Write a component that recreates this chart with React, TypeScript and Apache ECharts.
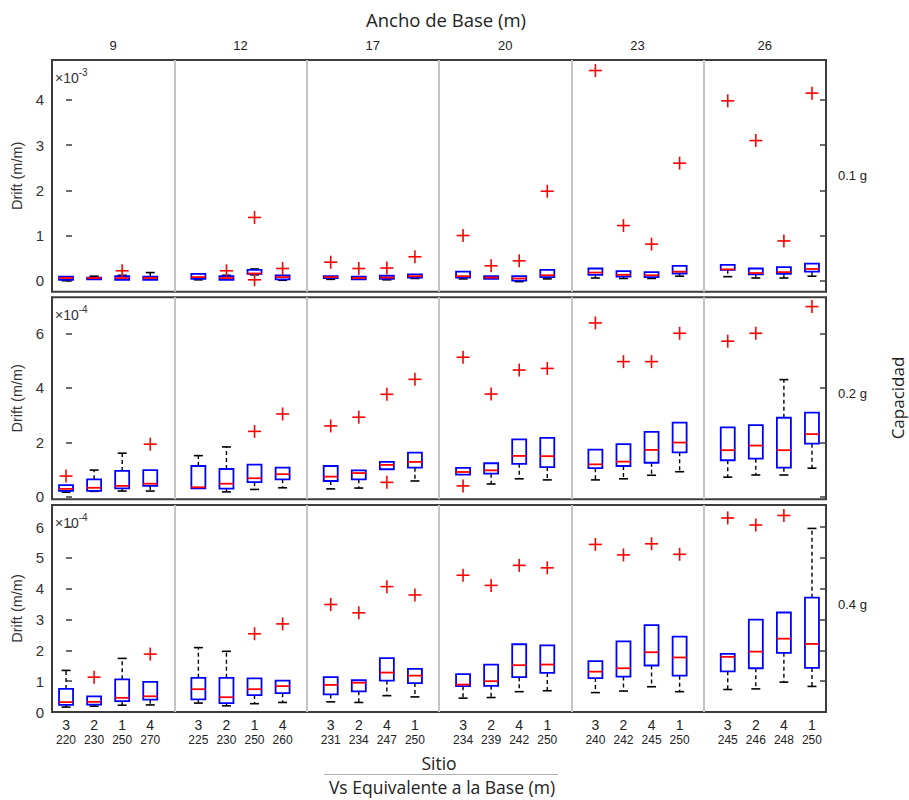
import React, { useEffect, useRef } from "react";
import * as echarts from "echarts";

// Base widths (column groups) and the four sites inside each group
const BASE_WIDTHS = ["9", "12", "17", "20", "23", "26"];
const SITES = [
  [3, 2, 1, 4],
  [3, 2, 1, 4],
  [3, 2, 4, 1],
  [3, 2, 4, 1],
  [3, 2, 4, 1],
  [3, 2, 4, 1],
];
const VS_BASE = [
  [220, 230, 250, 270],
  [225, 230, 250, 260],
  [231, 234, 247, 250],
  [234, 239, 242, 250],
  [240, 242, 245, 250],
  [245, 246, 248, 250],
];

// Box statistics [lower whisker, Q1, median, Q3, upper whisker], 0.1 g, drift x 1e-3
const BOX_01G = [
  [0.0, 0.02, 0.06, 0.09, 0.1], [0.02, 0.03, 0.06, 0.07, 0.1], [0.01, 0.02, 0.06, 0.1, 0.12], [0.01, 0.02, 0.06, 0.09, 0.18],
  [0.02, 0.04, 0.08, 0.15, 0.16], [0.01, 0.02, 0.06, 0.1, 0.12], [0.13, 0.15, 0.16, 0.24, 0.26], [0.01, 0.03, 0.08, 0.12, 0.13],
  [0.03, 0.06, 0.08, 0.1, 0.1], [0.02, 0.03, 0.06, 0.09, 0.09], [0.02, 0.04, 0.07, 0.11, 0.11], [0.05, 0.07, 0.1, 0.14, 0.14],
  [0.04, 0.07, 0.1, 0.2, 0.2], [0.03, 0.04, 0.07, 0.1, 0.1], [-0.02, 0.0, 0.05, 0.1, 0.1], [0.04, 0.08, 0.12, 0.24, 0.24],
  [0.06, 0.13, 0.18, 0.27, 0.27], [0.05, 0.09, 0.13, 0.21, 0.21], [0.05, 0.08, 0.12, 0.19, 0.19], [0.1, 0.16, 0.2, 0.33, 0.33],
  [0.09, 0.24, 0.25, 0.35, 0.35], [0.06, 0.14, 0.17, 0.27, 0.27], [0.06, 0.15, 0.19, 0.3, 0.3], [0.1, 0.2, 0.26, 0.38, 0.38],
];
const OUT_01G = [
  [], [], [0.22], [],
  [], [0.22], [1.4, 0.02], [0.27],
  [0.41], [0.27], [0.28], [0.53],
  [1.0], [0.33], [0.44], [1.98],
  [4.65], [1.22], [0.81], [2.6],
  [3.98], [3.1], [0.88], [4.15],
];

// 0.2 g, drift x 1e-4
const BOX_02G = [
  [0.17, 0.22, 0.29, 0.43, 0.43], [0.2, 0.22, 0.33, 0.64, 0.98], [0.21, 0.31, 0.4, 0.95, 1.6], [0.21, 0.4, 0.48, 0.98, 0.98],
  [0.31, 0.31, 0.35, 1.13, 1.51], [0.18, 0.3, 0.48, 1.02, 1.83], [0.27, 0.54, 0.68, 1.18, 1.18], [0.33, 0.64, 0.83, 1.07, 1.07],
  [0.29, 0.58, 0.74, 1.13, 1.13], [0.32, 0.64, 0.87, 0.97, 0.97], [1.01, 1.01, 1.17, 1.28, 1.28], [0.58, 1.07, 1.28, 1.62, 1.62],
  [0.81, 0.81, 0.91, 1.06, 1.06], [0.47, 0.85, 0.97, 1.23, 1.23], [0.66, 1.21, 1.5, 2.11, 2.11], [0.62, 1.09, 1.49, 2.16, 2.16],
  [0.62, 1.05, 1.19, 1.73, 1.73], [0.66, 1.13, 1.29, 1.93, 1.93], [0.79, 1.25, 1.72, 2.38, 2.38], [0.92, 1.63, 1.99, 2.72, 2.72],
  [0.72, 1.34, 1.71, 2.55, 2.55], [0.8, 1.4, 1.88, 2.63, 2.63], [0.8, 1.07, 1.71, 2.9, 4.3], [1.05, 1.95, 2.3, 3.09, 3.09],
];
const OUT_02G = [
  [0.76], [], [], [1.93],
  [], [], [2.4], [3.04],
  [2.6], [2.92], [3.76, 0.53], [4.31],
  [5.12, 0.4], [3.77], [4.65], [4.71],
  [6.38], [4.96], [4.96], [6.0],
  [5.71], [6.0], [], [6.98],
];

// 0.4 g, drift x 1e-4
const BOX_04G = [
  [0.16, 0.23, 0.32, 0.75, 1.35], [0.19, 0.24, 0.33, 0.51, 0.51], [0.22, 0.35, 0.46, 1.06, 1.74], [0.23, 0.4, 0.51, 0.98, 0.98],
  [0.29, 0.41, 0.74, 1.11, 2.09], [0.2, 0.29, 0.48, 1.11, 1.97], [0.27, 0.55, 0.74, 1.09, 1.09], [0.31, 0.61, 0.84, 1.02, 1.02],
  [0.33, 0.57, 0.88, 1.13, 1.13], [0.31, 0.67, 0.95, 1.03, 1.03], [0.53, 1.02, 1.28, 1.75, 1.75], [0.49, 0.94, 1.18, 1.4, 1.4],
  [0.45, 0.84, 0.89, 1.23, 1.23], [0.47, 0.85, 1.0, 1.54, 1.54], [0.66, 1.13, 1.52, 2.2, 2.2], [0.69, 1.27, 1.54, 2.16, 2.16],
  [0.63, 1.1, 1.31, 1.65, 1.65], [0.68, 1.15, 1.42, 2.29, 2.29], [0.82, 1.51, 1.94, 2.82, 2.82], [0.66, 1.18, 1.77, 2.45, 2.45],
  [0.73, 1.32, 1.79, 1.89, 1.89], [0.75, 1.42, 1.96, 3.0, 3.0], [0.97, 1.92, 2.38, 3.23, 3.23], [0.83, 1.43, 2.21, 3.71, 5.96],
];
const OUT_04G = [
  [], [1.13], [], [1.88],
  [], [], [2.54], [2.86],
  [3.49], [3.22], [4.07], [3.8],
  [4.44], [4.11], [4.76], [4.68],
  [5.44], [5.1], [5.46], [5.12],
  [6.3], [6.07], [6.38], [],
];

const CAPACITY = ["0.1 g", "0.2 g", "0.4 g"];
const EXPONENTS = ["-3", "-4", "-4"];
const Y_TICKS = [
  [0, 1, 2, 3, 4],
  [0, 2, 4, 6],
  [0, 1, 2, 3, 4, 5, 6],
];
const Y_RANGES = [
  [-0.243, 4.883],
  [-0.092, 7.32],
  [0, 6.72],
];

// Layout of the slots along x: one unit between boxes, wider step between groups
const GROUP_STEP = 132 / 28;
const slotX = (g: number, i: number) => g * GROUP_STEP + i;
const X_MIN = -0.5;
const X_MAX = 5 * GROUP_STEP + 3.5;
const separators = [0, 1, 2, 3, 4].map((g) => g * GROUP_STEP + (GROUP_STEP + 3) / 2);
const columnCenters = BASE_WIDTHS.map((_, g) => {
  const lo = g === 0 ? X_MIN : separators[g - 1];
  const hi = g === 5 ? X_MAX : separators[g];
  return (lo + hi) / 2;
});
const slotPositions: number[] = [];
BASE_WIDTHS.forEach((_, g) => SITES[g].forEach((__, i) => slotPositions.push(slotX(g, i))));

const GRIDS = [
  { top: 60, height: 231.7 },
  { top: 297.3, height: 202 },
  { top: 505, height: 207 },
];

const FRAME = "#3c3c3c";
const TICK_FONT = "Liberation Sans";
const TITLE_FONT = "Open Sans";

function boxRenderer(params: any, api: any) {
  const x = api.value(0);
  const lo = api.value(1);
  const q1 = api.value(2);
  const md = api.value(3);
  const q3 = api.value(4);
  const hi = api.value(5);
  const pLo = api.coord([x, lo]);
  const pQ1 = api.coord([x, q1]);
  const pMd = api.coord([x, md]);
  const pQ3 = api.coord([x, q3]);
  const pHi = api.coord([x, hi]);
  const cx = pQ1[0];
  const half = 7;
  const cap = 4.5;
  const whisk = { stroke: "#000", lineWidth: 1.4, lineDash: [4, 3] };
  const capStyle = { stroke: "#000", lineWidth: 1.6 };
  const children: any[] = [];
  if (pHi[1] < pQ3[1] - 0.5) {
    children.push({ type: "line", shape: { x1: cx, y1: pQ3[1], x2: cx, y2: pHi[1] }, style: whisk });
    children.push({ type: "line", shape: { x1: cx - cap, y1: pHi[1], x2: cx + cap, y2: pHi[1] }, style: capStyle });
  }
  if (pLo[1] > pQ1[1] + 0.5) {
    children.push({ type: "line", shape: { x1: cx, y1: pQ1[1], x2: cx, y2: pLo[1] }, style: whisk });
    children.push({ type: "line", shape: { x1: cx - cap, y1: pLo[1], x2: cx + cap, y2: pLo[1] }, style: capStyle });
  }
  children.push({
    type: "rect",
    shape: { x: cx - half, y: pQ3[1], width: half * 2, height: Math.max(pQ1[1] - pQ3[1], 1) },
    style: { fill: "none", stroke: "#0000ff", lineWidth: 1.8 },
  });
  children.push({
    type: "line",
    shape: { x1: cx - half, y1: pMd[1], x2: cx + half, y2: pMd[1] },
    style: { stroke: "#ff0000", lineWidth: 1.8 },
  });
  return { type: "group", children };
}

function outlierRenderer(params: any, api: any) {
  const p = api.coord([api.value(0), api.value(1)]);
  const r = 6.5;
  const st = { stroke: "#ff0000", lineWidth: 1.6 };
  return {
    type: "group",
    children: [
      { type: "line", shape: { x1: p[0] - r, y1: p[1], x2: p[0] + r, y2: p[1] }, style: st },
      { type: "line", shape: { x1: p[0], y1: p[1] - r, x2: p[0], y2: p[1] + r }, style: st },
    ],
  };
}

export default function App() {
  const ref = useRef<HTMLDivElement>(null);

  useEffect(() => {
    if (!ref.current) return;
    const chart = echarts.init(ref.current, null, { renderer: "svg" });
    const rows = [
      { box: BOX_01G, out: OUT_01G },
      { box: BOX_02G, out: OUT_02G },
      { box: BOX_04G, out: OUT_04G },
    ];

    const grid = GRIDS.map((g) => ({
      left: 52,
      width: 774,
      top: g.top,
      height: g.height,
      show: true,
      borderColor: FRAME,
      borderWidth: 2,
      backgroundColor: "#fff",
    }));

    const xAxis = GRIDS.map((_, r) => ({
      type: "value",
      gridIndex: r,
      min: X_MIN,
      max: X_MAX,
      position: r === 0 ? "top" : "bottom",
      axisLine: { show: false },
      axisTick: { show: false },
      splitLine: { show: false },
      axisLabel:
        r === 0
          ? {
              show: true,
              customValues: columnCenters,
              margin: 8,
              fontFamily: TICK_FONT,
              fontSize: 13,
              color: "#222",
              formatter: (v: number) => {
                const idx = columnCenters.findIndex((c) => Math.abs(c - v) < 1e-6);
                return idx >= 0 ? BASE_WIDTHS[idx] : "";
              },
            }
          : r === 2
          ? {
              show: true,
              customValues: slotPositions,
              margin: 5,
              formatter: (v: number) => {
                const idx = slotPositions.findIndex((c) => Math.abs(c - v) < 1e-6);
                if (idx < 0) return "";
                const g = Math.floor(idx / 4);
                const i = idx % 4;
                return `{s|${SITES[g][i]}}\n{v|${VS_BASE[g][i]}}`;
              },
              rich: {
                s: { fontFamily: TICK_FONT, fontSize: 14, color: "#222", lineHeight: 16 },
                v: { fontFamily: TICK_FONT, fontSize: 12, color: "#222", lineHeight: 14 },
              },
            }
          : { show: false },
    }));

    const yAxis: any[] = [];
    GRIDS.forEach((_, r) => {
      ["left", "right"].forEach((side) => {
        yAxis.push({
          type: "value",
          gridIndex: r,
          position: side,
          min: Y_RANGES[r][0],
          max: Y_RANGES[r][1],
          name: side === "left" ? "Drift (m/m)" : "",
          nameLocation: "middle",
          nameGap: 26,
          nameRotate: 90,
          nameTextStyle: { fontFamily: TICK_FONT, fontSize: 14.5, color: "#333" },
          axisLine: { show: false },
          splitLine: { show: false },
          axisTick: {
            show: true,
            inside: true,
            length: 6,
            customValues: Y_TICKS[r],
            lineStyle: { color: FRAME, width: 1.5 },
          },
          axisLabel: {
            show: side === "left",
            customValues: Y_TICKS[r],
            margin: 8,
            fontFamily: TICK_FONT,
            fontSize: 15,
            color: "#333",
          },
        });
      });
    });

    const series: any[] = [];
    rows.forEach((row, r) => {
      const boxData = row.box.map((b, k) => [slotPositions[k], ...b]);
      const outData: number[][] = [];
      row.out.forEach((vals, k) => vals.forEach((v) => outData.push([slotPositions[k], v])));
      series.push({
        type: "custom",
        xAxisIndex: r,
        yAxisIndex: r * 2,
        renderItem: boxRenderer,
        data: boxData,
        encode: { x: 0, y: [1, 2, 3, 4, 5] },
        silent: true,
        z: 3,
        markLine: {
          silent: true,
          symbol: ["none", "none"],
          label: { show: false },
          lineStyle: { color: "#c4c4c4", width: 2, type: "solid" },
          data: separators.map((s) => ({ xAxis: s })),
          z: 1,
        },
      });
      series.push({
        type: "custom",
        xAxisIndex: r,
        yAxisIndex: r * 2,
        renderItem: outlierRenderer,
        data: outData,
        encode: { x: 0, y: 1 },
        silent: true,
        z: 4,
      });
    });

    const graphic: any[] = [
      {
        type: "text",
        x: 446,
        y: 19,
        style: {
          text: "Ancho de Base (m)",
          font: `18.5px "${TITLE_FONT}"`,
          fill: "#222",
          align: "center",
          verticalAlign: "middle",
        },
      },
      {
        type: "text",
        x: 897,
        y: 398,
        rotation: Math.PI / 2,
        style: {
          text: "Capacidad",
          font: `17px "${TITLE_FONT}"`,
          fill: "#222",
          align: "center",
          verticalAlign: "middle",
        },
      },
      {
        type: "text",
        x: 439,
        y: 763,
        style: {
          text: "Sitio",
          font: `17.5px "${TITLE_FONT}"`,
          fill: "#222",
          align: "center",
          verticalAlign: "middle",
        },
      },
      {
        type: "line",
        shape: { x1: 324, y1: 774.5, x2: 558, y2: 774.5 },
        style: { stroke: "#b0b0b0", lineWidth: 1 },
      },
      {
        type: "text",
        x: 442,
        y: 787,
        style: {
          text: "Vs Equivalente a la Base (m)",
          font: `17.5px "${TITLE_FONT}"`,
          fill: "#222",
          align: "center",
          verticalAlign: "middle",
        },
      },
    ];
    GRIDS.forEach((g, r) => {
      graphic.push({
        type: "text",
        x: 838,
        y: [175, 393, 604][r],
        style: {
          text: CAPACITY[r],
          font: `13px "${TICK_FONT}"`,
          fill: "#222",
          align: "left",
          verticalAlign: "middle",
        },
      });
      graphic.push({
        type: "text",
        x: 55,
        y: g.top + 7,
        style: {
          text: `{a|×10}{b|${EXPONENTS[r]}}`,
          rich: {
            a: { font: `14px "${TICK_FONT}"`, fill: "#333", verticalAlign: "bottom", lineHeight: 18 },
            b: { font: `10px "${TICK_FONT}"`, fill: "#333", verticalAlign: "top", lineHeight: 18, padding: [0, 0, 6, 0] },
          },
        },
      });
    });

    chart.setOption({
      animation: false,
      backgroundColor: "#fff",
      grid,
      xAxis,
      yAxis,
      series,
      graphic,
    });
    return () => chart.dispose();
  }, []);

  return (
    <div
      ref={ref}
      style={{ position: "fixed", left: 0, top: 0, width: 909, height: 800, background: "#fff" }}
    />
  );
}
